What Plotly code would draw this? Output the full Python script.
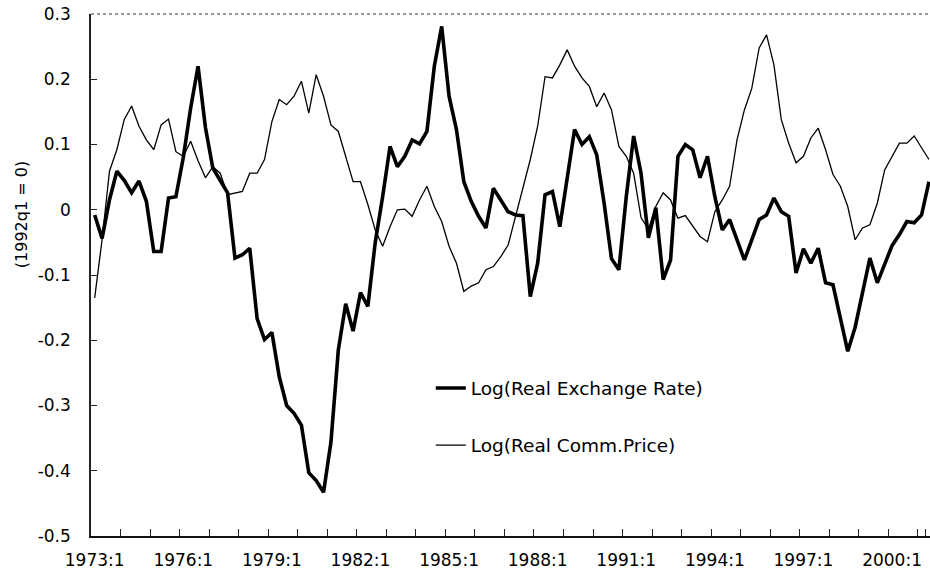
import plotly.graph_objects as go

years = list(range(1973, 2002))
quarters = [f"{y}:{q}" for y in years for q in (1, 2, 3, 4)][:114]

real_exchange_rate = [
    -0.008, -0.044, 0.015, 0.059, 0.045, 0.026, 0.044, 0.013, -0.064, -0.064,
    0.018, 0.020, 0.080, 0.156, 0.220, 0.126, 0.064, 0.044, 0.026, -0.074,
    -0.069, -0.059, -0.167, -0.199, -0.188, -0.256, -0.300, -0.312, -0.330, -0.403,
    -0.415, -0.433, -0.356, -0.215, -0.144, -0.186, -0.127, -0.148, -0.050, 0.020,
    0.097, 0.066, 0.082, 0.107, 0.101, 0.120, 0.220, 0.281, 0.174, 0.123,
    0.043, 0.013, -0.010, -0.028, 0.033, 0.015, -0.003, -0.008, -0.009, -0.133,
    -0.082, 0.023, 0.028, -0.026, 0.046, 0.123, 0.100, 0.112, 0.084, 0.010,
    -0.075, -0.092, 0.020, 0.113, 0.056, -0.043, 0.003, -0.107, -0.077, 0.082,
    0.100, 0.092, 0.049, 0.082, 0.020, -0.031, -0.015, -0.046, -0.077, -0.046,
    -0.015, -0.008, 0.018, -0.003, -0.010, -0.097, -0.060, -0.082, -0.059, -0.112,
    -0.115, -0.166, -0.217, -0.180, -0.130, -0.074, -0.112, -0.085, -0.055, -0.038,
    -0.018, -0.020, -0.008, 0.043,
]

real_comm_price = [
    -0.135, -0.046, 0.059, 0.092, 0.138, 0.159, 0.128, 0.107, 0.092, 0.130,
    0.139, 0.089, 0.082, 0.105, 0.075, 0.049, 0.066, 0.056, 0.023, 0.026,
    0.028, 0.056, 0.056, 0.077, 0.135, 0.169, 0.161, 0.174, 0.197, 0.148,
    0.207, 0.174, 0.130, 0.120, 0.082, 0.043, 0.043, 0.008, -0.031, -0.056,
    -0.026, 0.000, 0.001, -0.010, 0.015, 0.036, 0.005, -0.018, -0.056, -0.082,
    -0.125, -0.117, -0.112, -0.092, -0.087, -0.072, -0.054, -0.010, 0.031, 0.077,
    0.128, 0.204, 0.202, 0.222, 0.245, 0.220, 0.202, 0.189, 0.158, 0.179,
    0.153, 0.097, 0.082, 0.056, -0.012, -0.030, 0.005, 0.026, 0.015, -0.013,
    -0.009, -0.026, -0.041, -0.049, -0.003, 0.015, 0.036, 0.107, 0.153, 0.186,
    0.248, 0.268, 0.222, 0.138, 0.102, 0.072, 0.082, 0.110, 0.125, 0.092,
    0.054, 0.036, 0.005, -0.046, -0.028, -0.023, 0.010, 0.061, 0.082, 0.102,
    0.102, 0.113, 0.095, 0.077,
]

y_ticks = [0.3, 0.2, 0.1, 0.0, -0.1, -0.2, -0.3, -0.4, -0.5]
y_tick_text = ["0.3", "0.2", "0.1", "0", "-0.1", "-0.2", "-0.3", "-0.4", "-0.5"]
x_label_every = 12
x_tick_every = 4

FONT = "DejaVu Sans"

fig = go.Figure()
fig.add_trace(go.Scatter(
    x=quarters, y=real_exchange_rate, mode="lines",
    name="Log(Real Exchange Rate)", legendgroup="a",
    line=dict(color="black", width=3.6),
))
fig.add_trace(go.Scatter(
    x=quarters, y=real_comm_price, mode="lines",
    name="Log(Real Comm.Price)", legendgroup="b",
    line=dict(color="black", width=1.3),
))

x_tickvals = quarters[::x_tick_every]
x_ticktext = [q if i % x_label_every == 0 else "" for i, q in
              zip(range(0, len(quarters), x_tick_every), x_tickvals)]

fig.update_layout(
    width=930, height=583,
    margin=dict(l=91, r=0, t=14, b=47, autoexpand=False),
    paper_bgcolor="white", plot_bgcolor="white",
    font=dict(family=FONT, color="#000"),
    showlegend=True,
    legend=dict(
        x=0.405, y=0.319, xanchor="left", yanchor="top",
        font=dict(family=FONT, size=18.5, color="#000"),
        bgcolor="rgba(0,0,0,0)", borderwidth=0,
        traceorder="grouped", tracegroupgap=30,
        itemwidth=30,
    ),
    xaxis=dict(
        type="category",
        range=[-0.5, 113.14],
        automargin=False,
        tickmode="array", tickvals=x_tickvals, ticktext=x_ticktext,
        tickson="boundaries",
        ticks="inside", ticklen=7, tickwidth=1, tickcolor="#222",
        showgrid=False, zeroline=False,
        showline=True, linecolor="#111", linewidth=2,
        tickfont=dict(family=FONT, size=17, color="#000"),
        tickangle=0,
        ticklabelstandoff=8,
    ),
    yaxis=dict(
        range=[-0.5, 0.3],
        automargin=False,
        tickmode="array", tickvals=y_ticks, ticktext=y_tick_text,
        ticks="inside", ticklen=6, tickwidth=1, tickcolor="#222",
        showgrid=False, zeroline=False,
        showline=True, linecolor="#222", linewidth=1.5,
        tickfont=dict(family=FONT, size=17, color="#000"),
        ticklabelstandoff=15,
    ),
    annotations=[dict(
        text="(1992q1 = 0)", xref="paper", yref="paper",
        x=-0.082, y=0.615, xanchor="center", yanchor="middle",
        textangle=-90, showarrow=False,
        font=dict(family=FONT, size=16, color="#000"),
    )],
    shapes=[dict(
        type="line", xref="paper", yref="paper", x0=0, x1=1, y0=1, y1=1,
        line=dict(color="#333", width=1, dash="dot"),
    )],
)

# remove the browser's default 8px body margin so the figure fills the window
fig.write_html(
    "out.html",
    config={"displayModeBar": False},
    post_script="document.body.style.margin='0';document.body.style.overflow='hidden';",
)
